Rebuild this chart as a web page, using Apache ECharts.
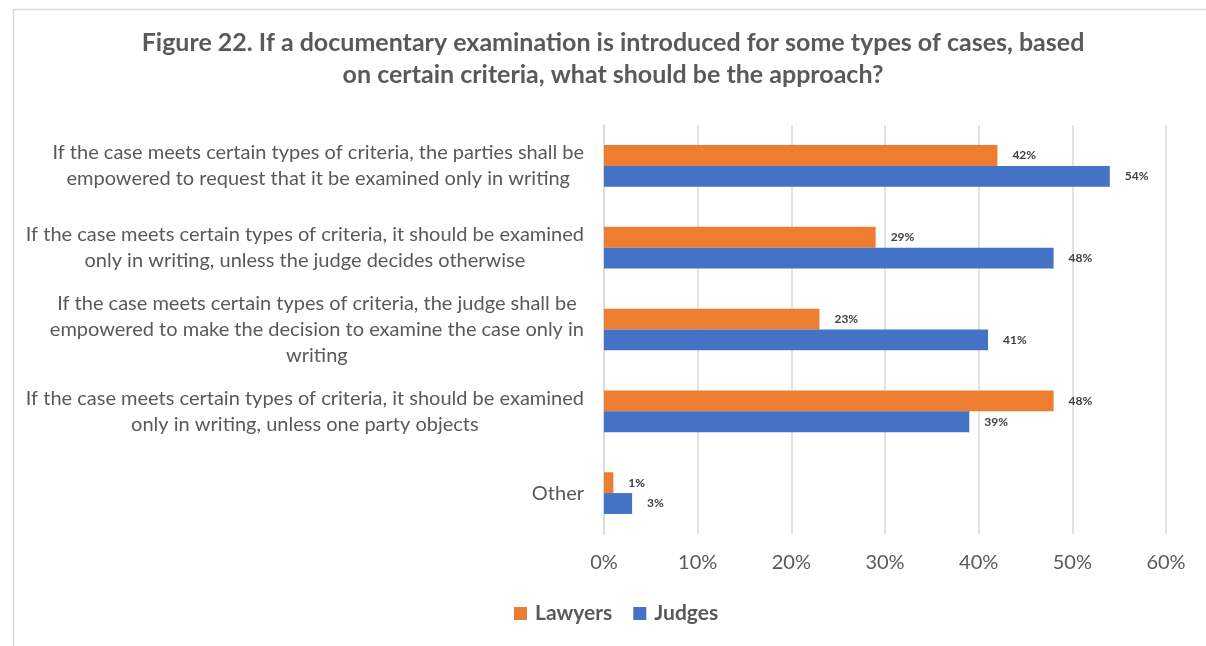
<!DOCTYPE html>
<html>
<head>
<meta charset="utf-8">
<style>
  html, body { margin: 0; padding: 0; background: #fff; }
  #chart { width: 1206px; height: 646px; }
</style>
<script src="https://cdn.jsdelivr.net/npm/echarts@6/dist/echarts.min.js"></script>
</head>
<body>
<div id="chart"></div>
<script>
// Survey answers, listed top to bottom
const categories = [
  'If the case meets certain types of criteria, the parties shall be\nempowered to request that it be examined only in writing',
  'If the case meets certain types of criteria, it should be examined\nonly in writing, unless the judge decides otherwise',
  'If the case meets certain types of criteria, the judge shall be\nempowered to make the decision to examine the case only in\nwriting',
  'If the case meets certain types of criteria, it should be examined\nonly in writing, unless one party objects',
  'Other'
];
const lawyers = [42, 29, 23, 48, 1];
const judges = [54, 48, 41, 39, 3];
const seriesNames = ['Lawyers', 'Judges'];
const axisTicks = [0, 10, 20, 30, 40, 50, 60];

const FONT = 'Lato, "Open Sans", sans-serif';
const GREY = '#595959';

const chart = echarts.init(document.getElementById('chart'), null, { renderer: 'canvas' });

// Each line of a category label is centred inside its block; the block sits right-aligned against the axis
function centreLines(v) {
  return v.split('\n').map(l => '{c|' + l + '}').join('\n');
}

const valueLabel = {
  show: true,
  position: 'right',
  distance: 15,
  formatter: p => p.value + '%',
  fontFamily: FONT,
  fontWeight: 'bold',
  fontSize: 12,
  color: '#404040'
};

chart.setOption({
  animation: false,
  backgroundColor: '#ffffff',
  graphic: [{
    type: 'rect',
    left: 11, top: 7,
    shape: { width: 1400, height: 800 },
    style: { fill: 'none', stroke: '#D9D9D9', lineWidth: 1.5 },
    silent: true,
    z: -10
  }],
  title: {
    text: 'Figure 22. If a documentary examination is introduced for some types of cases, based\non certain criteria, what should be the approach?',
    left: 613,
    top: 27,
    padding: 0,
    textAlign: 'center',
    textStyle: {
      fontFamily: FONT,
      fontWeight: 'bold',
      fontSize: 25,
      lineHeight: 32,
      color: GREY
    }
  },
  legend: {
    data: seriesNames,
    left: 514,
    top: 603,
    padding: 0,
    itemWidth: 13,
    itemHeight: 13,
    itemGap: 21,
    icon: 'rect',
    textStyle: {
      fontFamily: FONT,
      fontWeight: 'bold',
      fontSize: 21,
      color: GREY,
      padding: [0, 0, 0, 3]
    }
  },
  grid: {
    left: 604,
    right: 40,
    top: 125,
    bottom: 112,
    containLabel: false
  },
  xAxis: {
    type: 'value',
    min: axisTicks[0],
    max: axisTicks[axisTicks.length - 1],
    interval: 10,
    axisLine: { show: false },
    axisTick: { show: false },
    splitLine: { lineStyle: { color: '#D9D9D9', width: 1.5 } },
    axisLabel: {
      formatter: v => v + '%',
      fontFamily: FONT,
      fontSize: 20,
      color: GREY,
      margin: 19
    }
  },
  yAxis: {
    type: 'category',
    inverse: true,
    data: categories,
    axisLine: { lineStyle: { color: '#D9D9D9', width: 1.5 } },
    axisTick: { show: false },
    axisLabel: {
      margin: 20,
      align: 'right',
      formatter: centreLines,
      rich: {
        c: {
          align: 'center',
          fontFamily: FONT,
          fontSize: 20,
          lineHeight: 26,
          color: GREY
        }
      }
    }
  },
  series: [
    {
      name: seriesNames[0],
      type: 'bar',
      data: lawyers,
      itemStyle: { color: '#ED7D31' },
      barGap: '0%',
      barCategoryGap: '49%',
      label: valueLabel
    },
    {
      name: seriesNames[1],
      type: 'bar',
      data: judges,
      itemStyle: { color: '#4472C4' },
      barGap: '0%',
      barCategoryGap: '49%',
      label: valueLabel
    }
  ]
});
</script>
</body>
</html>
